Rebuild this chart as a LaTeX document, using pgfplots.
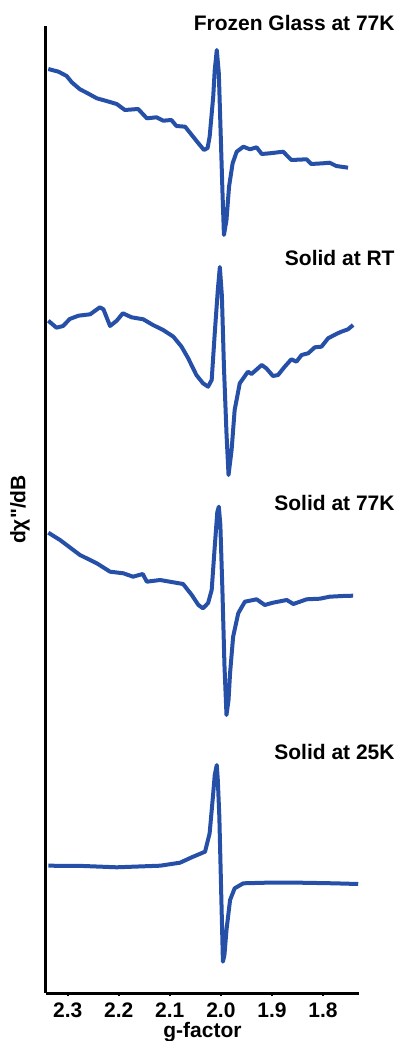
\documentclass[border=0pt]{standalone}
\usepackage{pgfplots}
\pgfplotsset{compat=1.18}
\usepackage{fontspec}
\setmainfont{Liberation Sans}

\definecolor{eprblue}{RGB}{38,80,168}

% spectra: g-factor vs. signal (arbitrary units, stacked with offsets)
\pgfplotstableread{
g y
2.338 972
2.318 969.3
2.302 965
2.292 958.7
2.276 951.7
2.263 948.3
2.243 942.7
2.224 940
2.204 937
2.188 931
2.162 932
2.145 922.7
2.126 923.7
2.113 920.3
2.097 921
2.087 915
2.070 914.3
2.057 906
2.044 897.7
2.033 891
2.026 893
2.022 904.3
2.015 944.3
2.012 971
2.008 991
2.004 967.7
2.001 917.7
1.997 851
1.994 806
1.989 821
1.984 854.3
1.977 877.7
1.969 889.3
1.956 894.3
1.943 891.7
1.930 893.7
1.920 887
1.904 887.7
1.878 889.3
1.862 881
1.832 881.7
1.823 877
1.800 877.7
1.787 878.3
1.774 875
1.751 873.3
}\frozen

\pgfplotstableread{
g y
2.338 720.3
2.322 713.3
2.309 715
2.296 722
2.279 725.3
2.256 726.7
2.237 733.7
2.230 731.7
2.217 715
2.204 720.3
2.192 727.7
2.175 723.7
2.152 721.7
2.133 716
2.113 711
2.093 704.3
2.077 694.3
2.064 682.7
2.048 666
2.035 657.7
2.025 654.3
2.018 661
2.012 707.7
2.006 751
2.002 774
1.998 745
1.994 674.3
1.989 607.7
1.985 566
1.979 591
1.973 631
1.963 657.7
1.947 669.3
1.940 667
1.920 676
1.911 672.7
1.898 665
1.888 666
1.875 674.3
1.862 681.7
1.852 679.3
1.842 686
1.829 687.7
1.816 693.7
1.803 694.3
1.790 702.7
1.774 707
1.764 709.3
1.751 711.7
1.741 716
}\solidrt

\pgfplotstableread{
g y
2.338 508.3
2.315 501
2.276 486
2.243 477.7
2.217 469.3
2.191 467.7
2.172 464.3
2.153 467
2.145 459.3
2.119 461
2.100 459.3
2.074 457
2.057 446
2.044 436
2.035 432.7
2.025 438
2.018 451
2.012 494.3
2.007 529
2.004 534.3
2.001 516
1.997 451
1.993 376
1.989 326
1.985 341
1.982 367.7
1.976 404.3
1.966 427.7
1.953 439.3
1.930 441.7
1.914 436
1.898 438.3
1.871 441
1.858 437
1.832 441.7
1.806 442.3
1.787 444.3
1.761 445
1.741 445.3
}\solidseventyseven

\pgfplotstableread{
g y
2.338 175.3
2.269 175
2.204 173.7
2.119 175.3
2.080 178.3
2.057 183.7
2.031 189.3
2.022 207.7
2.015 247.7
2.012 266
2.008 276
2.006 261
2.003 224.3
1.999 141
1.996 79.3
1.993 86
1.989 111
1.982 141
1.973 152.7
1.956 157.7
1.911 158.3
1.845 158.3
1.780 157.7
1.731 157
}\solidtwentyfive

\begin{document}
\begin{tikzpicture}
\useasboundingbox (0,0) rectangle (200pt,520.5pt);
\begin{axis}[
  at={(23pt,24pt)}, anchor=south west,
  scale only axis,
  width=156.5pt, height=483.5pt,
  x dir=reverse,
  xmin=1.7295, xmax=2.3425,
  ymin=48, ymax=1015,
  axis x line=bottom, axis y line=left,
  axis line style={-, line width=1.5pt, black},
  xtick={1.8,1.9,2.0,2.1,2.2,2.3},
  xticklabels={1.8,1.9,2.0,2.1,2.2,2.3},
  ytick=\empty,
  tick align=outside,
  major tick length=1.5pt,
  tick style={line width=1pt, black},
  ticklabel style={font=\fontsize{10.5}{12}\selectfont\bfseries},
  xlabel={g-factor},
  ylabel={dχ\textquotedbl/dB},
  label style={font=\fontsize{10.5}{12}\selectfont\bfseries},
  xlabel style={at={(axis description cs:0.5,0)}, anchor=center, yshift=-19.5pt},
  ylabel style={at={(axis description cs:-0.083,0.5)}, anchor=center},
  clip=false,
]
\addplot[eprblue, line width=2pt, line join=round] table[x=g,y=y] {\frozen};
\addplot[eprblue, line width=2pt, line join=round] table[x=g,y=y] {\solidrt};
\addplot[eprblue, line width=2pt, line join=round] table[x=g,y=y] {\solidseventyseven};
\addplot[eprblue, line width=2pt, line join=round] table[x=g,y=y] {\solidtwentyfive};

\begin{scope}[every node/.style={anchor=base east, inner sep=0pt, font=\fontsize{10.5}{12}\selectfont\bfseries}]
\node at (axis cs:1.659,1010) {Frozen Glass at 77K};
\node at (axis cs:1.659,775) {Solid at RT};
\node at (axis cs:1.659,530) {Solid at 77K};
\node at (axis cs:1.659,282) {Solid at 25K};
\end{scope}
\end{axis}
\end{tikzpicture}
\end{document}
